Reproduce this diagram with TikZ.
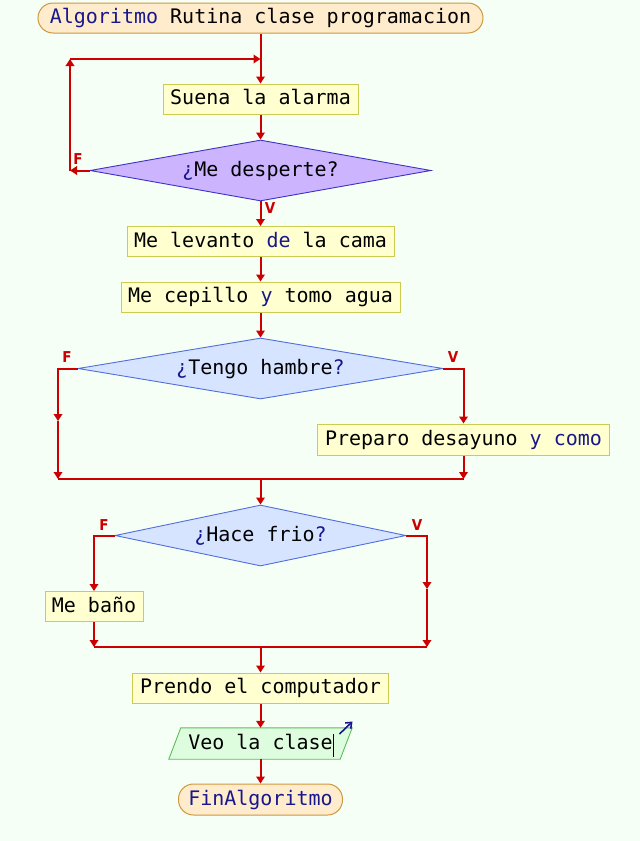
\documentclass[tikz,border=0pt]{standalone}
\usepackage{fontspec}
\setmonofont{DejaVu Sans Mono}
\newfontfamily\lblfont{DejaVu Sans Condensed}
\usetikzlibrary{shapes.geometric,arrows.meta,calc}
\definecolor{bgc}{RGB}{246,255,246}
\definecolor{termfill}{RGB}{255,236,204}
\definecolor{termdraw}{RGB}{206,152,64}
\definecolor{procfill}{RGB}{255,255,208}
\definecolor{procdraw}{RGB}{204,204,80}
\definecolor{dpurfill}{RGB}{204,180,255}
\definecolor{dpurdraw}{RGB}{60,50,200}
\definecolor{dblufill}{RGB}{214,228,255}
\definecolor{dbludraw}{RGB}{80,110,220}
\definecolor{iofill}{RGB}{222,252,222}
\definecolor{iodraw}{RGB}{90,190,90}
\definecolor{kw}{RGB}{24,24,140}
\definecolor{flowred}{RGB}{204,0,0}
\newcommand{\kwd}[1]{\textcolor{kw}{#1}}
\begin{document}
\begin{tikzpicture}[x=1pt,y=-1pt,
  every node/.style={font=\ttfamily\fontsize{20}{24}\selectfont, inner sep=0pt, text height=15pt, text depth=4pt},
  term/.style={draw=termdraw, fill=termfill, line width=1pt, rounded corners=15pt, rectangle},
  proc/.style={draw=procdraw, fill=procfill, line width=1pt, rectangle},
  decpur/.style={diamond, draw=dpurdraw, fill=dpurfill, line width=0.9pt, shape aspect=5.6},
  decblu/.style={diamond, draw=dbludraw, fill=dblufill, line width=0.9pt, shape aspect=5.6},
  flow/.style={draw=flowred, line width=2pt, -{Triangle[length=7pt,width=8.5pt]}},
  flowline/.style={draw=flowred, line width=2pt},
  lbl/.style={font=\lblfont\bfseries\fontsize{15}{15}\selectfont, text=flowred, text height=11pt, text depth=0pt}
]
\fill[bgc] (0,0) rectangle (640,841);
\useasboundingbox (0,0) rectangle (640,841);

% nodes
\node[term, minimum width=445pt, minimum height=30pt] (start) at (260.5,18) {\kwd{Algoritmo} Rutina clase programacion};
\node[proc, minimum width=195pt, minimum height=30pt] (suena) at (260.5,99) {Suena la alarma};
\node[decpur, minimum width=341pt, minimum height=61pt] (d1) at (260.5,170.5) {\kwd{¿}Me desperte?};
\node[proc, minimum width=267pt, minimum height=30pt] (levanto) at (260.5,241.5) {Me levanto \kwd{de} la cama};
\node[proc, minimum width=279pt, minimum height=30pt] (cepillo) at (260.5,297) {Me cepillo \kwd{y} tomo agua};
\node[decblu, minimum width=365pt, minimum height=61pt] (d2) at (260.5,368.5) {\kwd{¿}Tengo hambre\kwd{?}};
\node[proc, minimum width=292pt, minimum height=31pt] (preparo) at (463.5,439.5) {Preparo desayuno \kwd{y como}};
\node[decblu, minimum width=291pt, minimum height=61pt] (d3) at (260.5,535.5) {\kwd{¿}Hace frio\kwd{?}};
\node[proc, minimum width=98pt, minimum height=30pt] (bano) at (94,606.5) {Me baño};
\node[proc, minimum width=256pt, minimum height=30pt] (prendo) at (260.5,688) {Prendo el computador};
\node[rectangle, minimum width=171pt, minimum height=31pt] (veo) at (260.5,743.5) {};
\fill[iofill] ($(veo.north west)+(6,0)$) -- ($(veo.north east)+(6,0)$) -- ($(veo.south east)+(-6,0)$) -- ($(veo.south west)+(-6,0)$) -- cycle;
\draw[iodraw, line width=0.9pt] ($(veo.north west)+(6,0)$) -- ($(veo.north east)+(6,0)$) -- ($(veo.south east)+(-6,0)$) -- ($(veo.south west)+(-6,0)$) -- cycle;
\node (veotext) at (260.5,743.5) {Veo la clase};
\draw[black, line width=1.8pt] ($(veo.center)+(73,-9.5)$) -- ($(veo.center)+(73,13.5)$);
\draw[kw, line width=1.6pt, -{Straight Barb[length=5pt,width=8pt]}] ($(veo.center)+(79,-9.5)$) -- ($(veo.center)+(92,-22)$);
\node[term, minimum width=164pt, minimum height=31pt] (fin) at (260.5,799.5) {\kwd{FinAlgoritmo}};

% junction coordinates
\coordinate (j1) at (260.5,59);
\coordinate (c1) at (70,59);
\coordinate (c2) at (70,170.5);
\coordinate (l2a) at (58,368.5);
\coordinate (l2b) at (58,421);
\coordinate (l2c) at (58,479);
\coordinate (r2a) at (463.5,368.5);
\coordinate (r2c) at (463.5,479);
\coordinate (m2) at (260.5,479);
\coordinate (l3a) at (94,535.5);
\coordinate (l3c) at (94,647);
\coordinate (r3a) at (427,535.5);
\coordinate (r3b) at (427,589);
\coordinate (r3c) at (427,647);
\coordinate (m3) at (260.5,647);

% connectors
\draw[flow] (start.south) -- (suena.north);
\draw[flow] (suena.south) -- (d1.north);
\draw[flow] (d1.west) -- (c2);
\draw[flow] (c2) -- (c1);
\draw[flow] (c1) -- (j1);
\draw[flow] (d1.south) -- (levanto.north);
\draw[flow] (levanto.south) -- (cepillo.north);
\draw[flow] (cepillo.south) -- (d2.north);
\draw[flow] (d2.west) -- (l2a) -- (l2b);
\draw[flow] (l2b) -- (l2c);
\draw[flow] (d2.east) -- (r2a) -- (preparo.north);
\draw[flow] (preparo.south) -- (r2c);
\draw[flowline] (l2c) -- (r2c);
\draw[flow] (m2) -- (d3.north);
\draw[flow] (d3.west) -- (l3a) -- (bano.north);
\draw[flow] (bano.south) -- (l3c);
\draw[flow] (d3.east) -- (r3a) -- (r3b);
\draw[flow] (r3b) -- (r3c);
\draw[flowline] (l3c) -- (r3c);
\draw[flow] (m3) -- (prendo.north);
\draw[flow] (prendo.south) -- (veo.north);
\draw[flow] (veo.south) -- (fin.north);

% labels
\node[lbl] (f1) at (78,159) {F};
\node[lbl] (v1) at (270,208) {V};
\node[lbl] (f2) at (67,357) {F};
\node[lbl] (v2) at (453,357) {V};
\node[lbl] (f3) at (104,525) {F};
\node[lbl] (v3) at (417,525) {V};
\end{tikzpicture}
\end{document}
